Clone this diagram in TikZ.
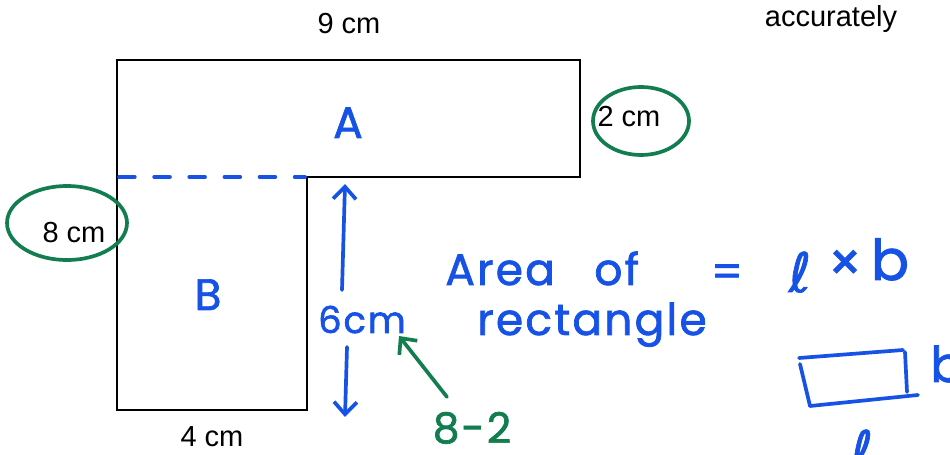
\documentclass[tikz,border=0pt]{standalone}
\usepackage{fontspec}
\setmainfont{Liberation Sans}
\newfontfamily\handfont[LetterSpace=5,FakeBold=1.6]{Poppins}
\newfontfamily\loopfont[FakeBold=1.2]{DejaVu Sans}
\usetikzlibrary{arrows.meta}
\definecolor{penblue}{RGB}{22,82,230}
\definecolor{pengreen}{RGB}{18,125,78}

\begin{document}
\begin{tikzpicture}[x=0.02cm,y=-0.02cm,
    lbl/.style={font=\fontsize{16.5}{18}\selectfont,inner sep=0pt,anchor=base},
    hand/.style={penblue,font=\handfont\fontsize{25}{27}\selectfont,inner sep=0pt,anchor=base},
    ink/.style={penblue,line width=2.1pt,line cap=round,line join=round},
    greenink/.style={pengreen,line width=2.1pt,line cap=round,line join=round},
    barb/.style={-{Straight Barb[length=7pt,width=13pt,line width=2.1pt]}}]
  \clip (0,0) rectangle (950,455);
  \fill[white] (0,0) rectangle (950,455);

  % the L shape
  \draw[line width=0.85pt] (117,60) -- (580,60) -- (580,177) -- (307,177)
    -- (307,410) -- (117,410) -- cycle;
  \draw[ink,dash pattern=on 9pt off 11pt] (119,177) -- (305,177);

  % printed lengths
  \node[lbl] (top) at (349,34) {9 cm};
  \node[lbl] (note) at (831,27) {accurately};
  \node[lbl] (two) at (629,127) {2 cm};
  \node[lbl] (eight) at (74,243) {8 cm};
  \node[lbl] (four) at (212,447) {4 cm};

  % rings round two lengths
  \draw[greenink] (641,121) ellipse [x radius=48, y radius=34];
  \draw[greenink] (67,223) ellipse [x radius=60, y radius=37];

  % parts
  \node[hand] (partA) at (348,138) {A};
  \node[hand] (partB) at (208,310) {B};

  % the 6cm side
  \node[hand,font=\handfont\fontsize{21}{23}\selectfont] (six) at (362,333) {6cm};
  \coordinate (sixtop) at (345,184);
  \coordinate (sixbot) at (345,417);
  \coordinate (upfrom) at (342,290);
  \coordinate (downfrom) at (347,347);
  \draw[ink,barb] (upfrom) -- (sixtop);
  \draw[ink,barb] (downfrom) -- (sixbot);

  \node[hand,pengreen,font=\handfont\fontsize{24}{26}\selectfont] (diff) at (472,443) {8-2};
  \coordinate (difftail) at (447,397);
  \coordinate (diffhead) at (399,336);
  \draw[greenink,barb] (difftail) -- (diffhead);

  % area formula
  \node[hand,anchor=base west] (area) at (445,285) {Area\hspace{0.9em}of};
  \node[hand,anchor=base west] (rect) at (477,335) {rectangle};
  \node[hand] (eq) at (727,287) {=};
  \node[hand] (ell) at (800,292) {\loopfont\fontsize{31}{33}\selectfont ℓ};
  \node[hand,font=\handfont\fontsize{30}{32}\selectfont] (times) at (845,281) {×};
  \node[hand,font=\handfont\fontsize{32}{34}\selectfont] (bee) at (890,280) {b};

  % small rectangle
  \draw[ink] (799,358) -- (903,350);
  \draw[ink] (800,364) -- (810,406);
  \draw[ink] (810,406) -- (918,395);
  \draw[ink] (905,352) -- (907,392);
  \node[hand,font=\handfont\fontsize{28}{30}\selectfont] (sideb) at (947,382) {b};
  \node[hand] (sidel) at (862,470) {\loopfont\fontsize{31}{33}\selectfont ℓ};
\end{tikzpicture}
\end{document}
